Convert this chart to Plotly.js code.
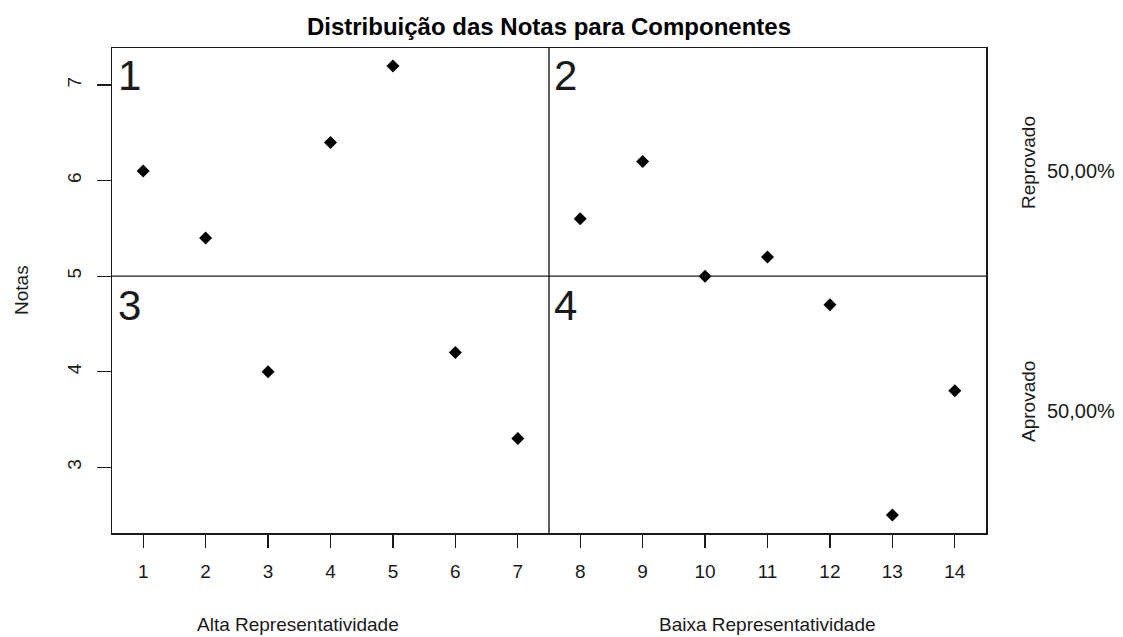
<!DOCTYPE html>
<html>
<head>
<meta charset="utf-8">
<script src="https://cdn.plot.ly/plotly-3.0.1.min.js"></script>
<style>
  html, body { margin: 0; padding: 0; background: #fff; }
  #chart { width: 1123px; height: 637px; }
</style>
</head>
<body>
<div id="chart"></div>
<script>
// ---- data ----
const componentes = [1, 2, 3, 4, 5, 6, 7, 8, 9, 10, 11, 12, 13, 14];
const notas = [6.1, 5.4, 4.0, 6.4, 7.2, 4.2, 3.3, 5.6, 6.2, 5.0, 5.2, 4.7, 2.5, 3.8];
const xTickLabels = ['1','2','3','4','5','6','7','8','9','10','11','12','13','14'];
const yTickVals = [3, 4, 5, 6, 7];
const yTickLabels = ['3', '4', '5', '6', '7'];
const quadrantLabels = ['1', '2', '3', '4'];
const groupLabels = ['Alta Representatividade', 'Baixa Representatividade'];
const statusLabels = ['Reprovado', 'Aprovado'];
const statusPercent = ['50,00%', '50,00%'];
const notaCorte = 5;        // horizontal divider
const divisorGrupos = 7.5;  // vertical divider

// ---- layout helpers ----
const W = 1123, H = 637;
const M = {l: 112, r: 137, t: 48, b: 104};
const PW = W - M.l - M.r, PH = H - M.t - M.b;
const px = x => (x - M.l) / PW;          // pixel -> paper x
const py = y => 1 - (y - M.t) / PH;      // pixel -> paper y

const ymin = Math.min(...notas), ymax = Math.max(...notas);
const ypad = 0.04 * (ymax - ymin);
const xmin = Math.min(...componentes), xmax = Math.max(...componentes);

const FONT = 'Liberation Sans, Arial, sans-serif';
const INK = '#1a1a1a';

const trace = {
  x: componentes,
  y: notas,
  type: 'scatter',
  mode: 'markers',
  marker: {symbol: 'diamond', size: 10, color: '#000'},
  hoverinfo: 'x+y'
};

const annotations = [];
// quadrant numbers
const qPos = [[116, 50], [552, 50], [116, 280], [552, 280]];
quadrantLabels.forEach((t, i) => {
  annotations.push({
    text: t, xref: 'paper', yref: 'paper',
    x: px(qPos[i][0]), y: py(qPos[i][1]),
    xanchor: 'left', yanchor: 'top', showarrow: false,
    font: {family: FONT, size: 42, color: INK}
  });
});
// group (x) titles
const gPos = [298, 767];
groupLabels.forEach((t, i) => {
  annotations.push({
    text: t, xref: 'paper', yref: 'paper',
    x: px(gPos[i]), y: py(624),
    xanchor: 'center', yanchor: 'middle', showarrow: false,
    font: {family: FONT, size: 19, color: INK}
  });
});
// y title
annotations.push({
  text: 'Notas', xref: 'paper', yref: 'paper',
  x: px(21), y: py(290), xanchor: 'center', yanchor: 'middle',
  textangle: -90, showarrow: false,
  font: {family: FONT, size: 19, color: INK}
});
// right side status labels
const sPos = [[1028, 163, 171], [1028, 402, 411]];
statusLabels.forEach((t, i) => {
  annotations.push({
    text: t, xref: 'paper', yref: 'paper',
    x: px(sPos[i][0]), y: py(sPos[i][1]),
    xanchor: 'center', yanchor: 'middle', textangle: -90, showarrow: false,
    font: {family: FONT, size: 19, color: INK}
  });
  annotations.push({
    text: statusPercent[i], xref: 'paper', yref: 'paper',
    x: px(1045), y: py(sPos[i][2]),
    xanchor: 'left', yanchor: 'middle', showarrow: false,
    font: {family: FONT, size: 20, color: INK}
  });
});

const layout = {
  width: W, height: H,
  margin: M,
  paper_bgcolor: '#fff', plot_bgcolor: '#fff',
  showlegend: false,
  title: {
    text: '<b>Distribuição das Notas para Componentes</b>',
    xref: 'container', yref: 'container',
    x: 549 / W, xanchor: 'center', y: 1 - 27 / H, yanchor: 'middle',
    font: {family: FONT, size: 24, color: '#000'}
  },
  xaxis: {
    range: [xmin - 0.5, xmax + 0.5],
    tickmode: 'array', tickvals: componentes, ticktext: xTickLabels,
    ticks: 'outside', ticklen: 13, tickwidth: 1.3, tickcolor: INK,
    showline: true, mirror: true, linecolor: INK, linewidth: 1.5,
    showgrid: false, zeroline: false,
    ticklabelstandoff: 8,
    tickfont: {family: FONT, size: 19, color: INK}
  },
  yaxis: {
    range: [ymin - ypad, ymax + ypad],
    tickmode: 'array', tickvals: yTickVals, ticktext: yTickLabels,
    ticks: 'outside', ticklen: 14, tickwidth: 1.3, tickcolor: INK,
    showline: true, mirror: true, linecolor: INK, linewidth: 1.5,
    showgrid: false, zeroline: false,
    tickangle: -90,
    ticklabelstandoff: 8,
    tickfont: {family: FONT, size: 19, color: INK}
  },
  shapes: [
    {type: 'line', xref: 'paper', yref: 'y', x0: 0, x1: 1, y0: notaCorte, y1: notaCorte,
     line: {color: INK, width: 1.4}},
    {type: 'line', xref: 'x', yref: 'paper', x0: divisorGrupos, x1: divisorGrupos, y0: 0, y1: 1,
     line: {color: INK, width: 1.4}}
  ],
  annotations: annotations
};

Plotly.newPlot('chart', [trace], layout, {displayModeBar: false, staticPlot: true});
</script>
</body>
</html>
